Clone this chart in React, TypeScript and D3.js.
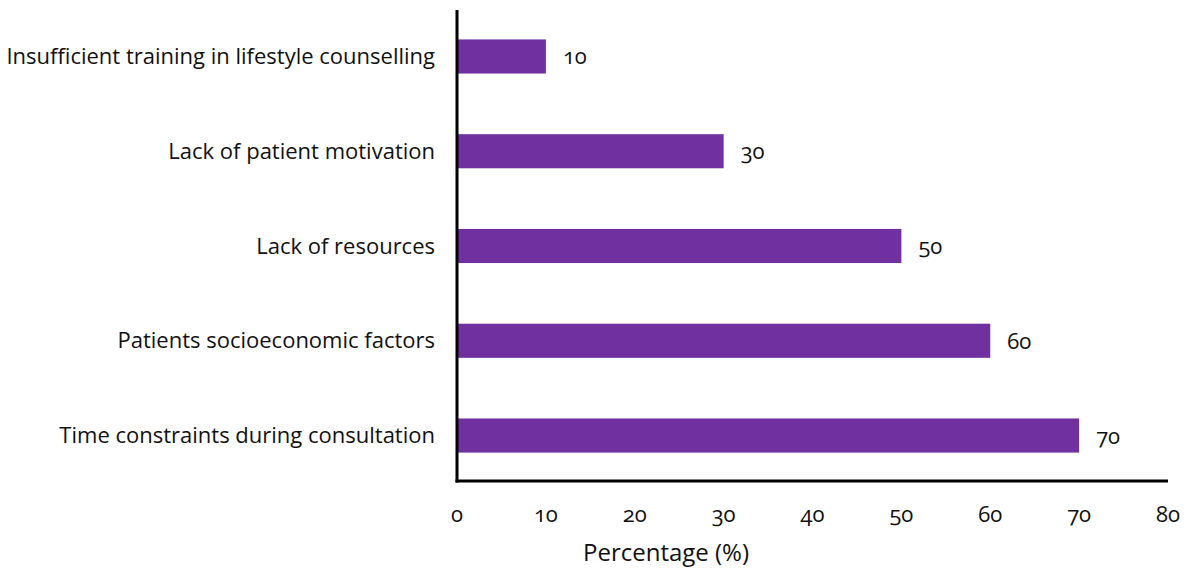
import React from "react";
import * as d3 from "d3";

const categories = [
  "Insufficient training in lifestyle counselling",
  "Lack of patient motivation",
  "Lack of resources",
  "Patients socioeconomic factors",
  "Time constraints during consultation",
];
const values = [10, 30, 50, 60, 70];
const xTicks = [0, 10, 20, 30, 40, 50, 60, 70, 80];
const xTitle = "Percentage (%)";

const W = 1192;
const H = 571;
const left = 457;
const right = 1168;
const top = 10;
const bottom = 481;
const barColor = "#7030A0";
const font = "'Open Sans', 'Noto Sans', sans-serif";

export default function App() {
  const x = d3.scaleLinear().domain([0, 80]).range([left, right]);
  const y = d3
    .scaleBand<string>()
    .domain(categories)
    .range([11, 481])
    .paddingInner(0.64)
    .paddingOuter(0.3);

  return (
    <svg
      width={W}
      height={H}
      style={{ position: "absolute", left: 0, top: 0, fontFamily: font, fontVariantNumeric: "oldstyle-nums" }}
    >
      <rect width={W} height={H} fill="#fff" />
      {categories.map((c, i) => (
        <g key={c}>
          <rect
            x={x(0)}
            y={y(c)!}
            width={x(values[i]) - x(0)}
            height={y.bandwidth()}
            fill={barColor}
          />
          <text
            x={x(values[i]) + 17}
            y={y(c)! + y.bandwidth() / 2 + 8}
            fontSize={22}
            fill="#111"
          >
            {values[i]}
          </text>
          <text
            x={left - 22}
            y={y(c)! + y.bandwidth() / 2}
            dy="0.35em"
            textAnchor="end"
            fontSize={22}
            fill="#111"
          >
            {c}
          </text>
        </g>
      ))}
      <line x1={left} x2={left} y1={top} y2={bottom + 1.5} stroke="#000" strokeWidth={3} />
      <line x1={left - 1.5} x2={right} y1={bottom} y2={bottom} stroke="#000" strokeWidth={3} />
      {xTicks.map((t) => (
        <text key={t} x={x(t)} y={522} textAnchor="middle" fontSize={22} fill="#111">
          {t}
        </text>
      ))}
      <text x={666} y={561} textAnchor="middle" fontSize={24} fill="#111">
        {xTitle}
      </text>
    </svg>
  );
}
